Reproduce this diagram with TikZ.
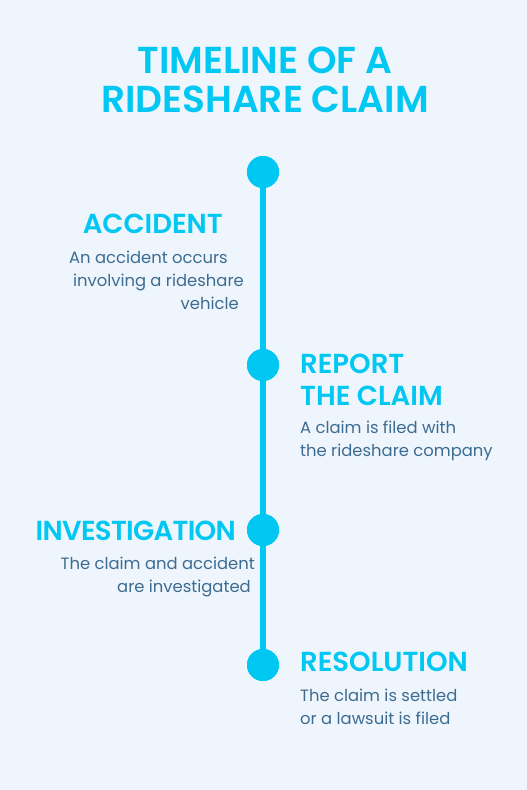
\documentclass[tikz,border=0pt]{standalone}
\usepackage{fontspec}
\setmainfont{Poppins}
\newfontfamily\headfont{Poppins SemiBold}
\newfontfamily\bodyfont{Poppins}
\definecolor{bg}{HTML}{EEF5FD}
\definecolor{cyanc}{HTML}{00C8F2}
\definecolor{bodyc}{HTML}{3D6C90}
\begin{document}
\begin{tikzpicture}[x=1pt,y=-1pt,
  title/.style={font=\headfont\fontsize{37.5}{39}\selectfont, text=cyanc, align=center, inner sep=0},
  headl/.style={font=\headfont\fontsize{27.5}{32}\selectfont, text=cyanc, inner sep=0},
  bodyt/.style={font=\bodyfont\fontsize{16.4}{22.8}\selectfont, text=bodyc, inner sep=0},
  dot/.style={circle, fill=cyanc, minimum size=32pt, inner sep=0}]
\fill[bg] (0,0) rectangle (527,790);
\useasboundingbox (0,0) rectangle (527,790);
\node[title] (t) at (265,80) {TIMELINE OF A\\RIDESHARE CLAIM};
\node[dot] (d1) at (263,172) {};
\node[dot] (d2) at (263,365) {};
\node[dot] (d3) at (263,530) {};
\node[dot] (d4) at (263,665) {};
\draw[cyanc, line width=6pt] (d1.center) -- (d4.center);
\foreach \d in {d1,d2,d3,d4} \fill[cyanc] (\d) circle (16);
\node[headl, anchor=east] (h1) at (223,224) {ACCIDENT};
\node[bodyt, anchor=north east, align=right] (b1) at (244,251) {An accident occurs\hspace*{16pt}\\involving a rideshare\\vehicle\hspace*{5pt}};
\node[headl, anchor=west, align=left] (h2) at (300,380) {REPORT\\THE CLAIM};
\node[bodyt, anchor=north west, align=left] (b2) at (300,421) {A claim is filed with\\the rideshare company};
\node[headl, anchor=east, font=\headfont\fontsize{27.5}{32}\selectfont\addfontfeature{LetterSpace=-2.5}] (h3) at (236,531) {INVESTIGATION};
\node[bodyt, anchor=north east, align=right] (b3) at (255,557) {The claim and accident\\are investigated\hspace*{4pt}};
\node[headl, anchor=west] (h4) at (300,662) {RESOLUTION};
\node[bodyt, anchor=north west, align=left] (b4) at (300,689) {The claim is settled\\or a lawsuit is filed};
\end{tikzpicture}
\end{document}
